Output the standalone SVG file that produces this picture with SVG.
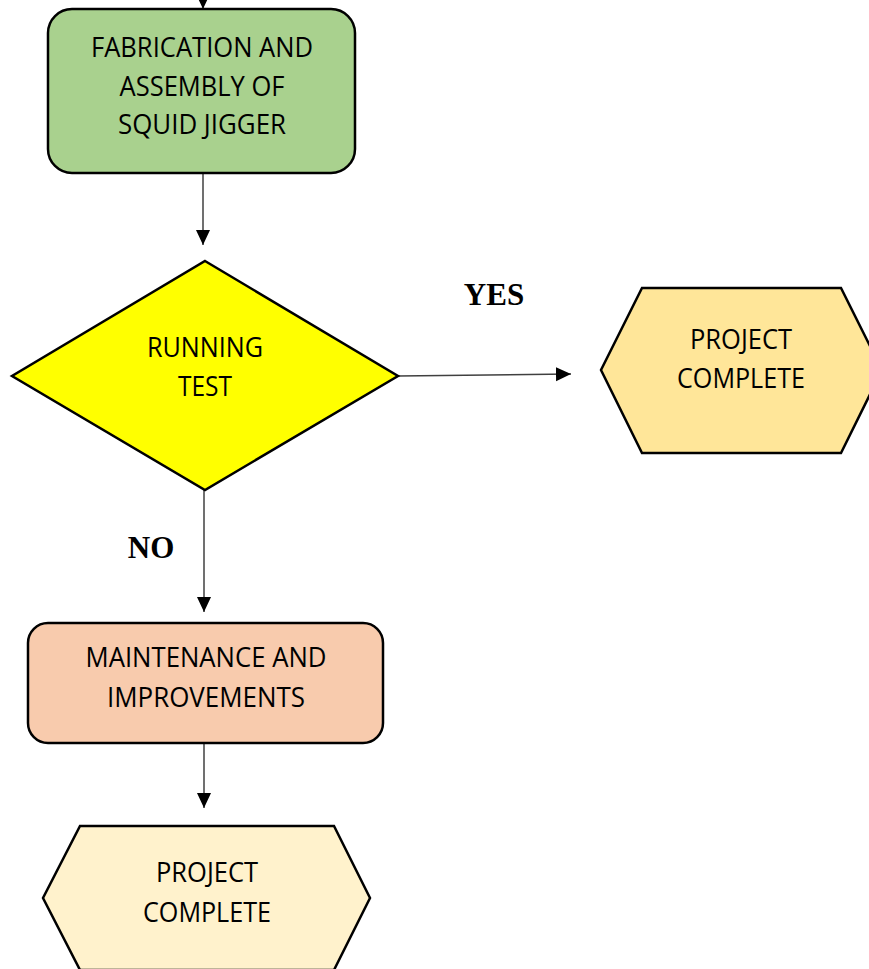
<svg xmlns="http://www.w3.org/2000/svg" width="869" height="969" viewBox="0 0 869 969">
<style>
.shape{stroke:#000;stroke-width:2.5;stroke-linejoin:miter}
.lbl{font-family:"Open Sans","Noto Sans",sans-serif;font-size:27px;fill:#000;text-anchor:middle}
.yn{font-family:"Liberation Serif","Times New Roman",serif;font-size:31px;font-weight:bold;fill:#000;text-anchor:middle}
.conn{stroke:#404040;stroke-width:1.5;fill:none;marker-end:url(#arrow)}
</style>
<defs>
<marker id="arrow" markerUnits="userSpaceOnUse" markerWidth="16" markerHeight="15" refX="15" refY="7" orient="auto">
<path d="M0,0 L15,7 L0,14 z" fill="#000"/>
</marker>
</defs>
<rect width="869" height="969" fill="#fff"/>
<g id="connectors">
<line class="conn" x1="203" y1="-20" x2="203" y2="9"/>
<line class="conn" x1="203" y1="173" x2="203" y2="245"/>
<line class="conn" x1="398" y1="376" x2="571" y2="374"/>
<line class="conn" x1="204" y1="490" x2="204" y2="612"/>
<line class="conn" x1="204" y1="743" x2="204" y2="808"/>
</g>
<g id="fabrication">
<rect class="shape" x="48" y="9" width="307" height="164" rx="24" fill="#A9D18E"/>
<text class="lbl" x="202" y="57" textLength="222" lengthAdjust="spacingAndGlyphs">FABRICATION AND</text>
<text class="lbl" x="202" y="96" textLength="165" lengthAdjust="spacingAndGlyphs">ASSEMBLY OF</text>
<text class="lbl" x="202" y="134" textLength="168" lengthAdjust="spacingAndGlyphs">SQUID JIGGER</text>
</g>
<g id="running-test">
<polygon class="shape" points="205,261 398,376 205,490 12,376" fill="#FFFF00"/>
<text class="lbl" x="205" y="357" textLength="116" lengthAdjust="spacingAndGlyphs">RUNNING</text>
<text class="lbl" x="205" y="396" textLength="54" lengthAdjust="spacingAndGlyphs">TEST</text>
</g>
<g id="label-yes">
<text class="yn" x="494" y="305">YES</text>
</g>
<g id="label-no">
<text class="yn" x="151" y="558">NO</text>
</g>
<g id="project-complete-right">
<polygon class="shape" points="642,288 841,288 882,370 841,453 642,453 601,370" fill="#FFE699"/>
<text class="lbl" x="741" y="349" textLength="102" lengthAdjust="spacingAndGlyphs">PROJECT</text>
<text class="lbl" x="741" y="388" textLength="128" lengthAdjust="spacingAndGlyphs">COMPLETE</text>
</g>
<g id="maintenance">
<rect class="shape" x="28" y="623" width="355" height="120" rx="20" fill="#F8CBAD"/>
<text class="lbl" x="206" y="667" textLength="241" lengthAdjust="spacingAndGlyphs">MAINTENANCE AND</text>
<text class="lbl" x="206" y="707" textLength="198" lengthAdjust="spacingAndGlyphs">IMPROVEMENTS</text>
</g>
<g id="project-complete-bottom">
<polygon class="shape" points="80,826 334,826 370,898 334,970 80,970 43,898" fill="#FFF2CC"/>
<text class="lbl" x="207" y="882" textLength="102" lengthAdjust="spacingAndGlyphs">PROJECT</text>
<text class="lbl" x="207" y="922" textLength="128" lengthAdjust="spacingAndGlyphs">COMPLETE</text>
</g>
</svg>
